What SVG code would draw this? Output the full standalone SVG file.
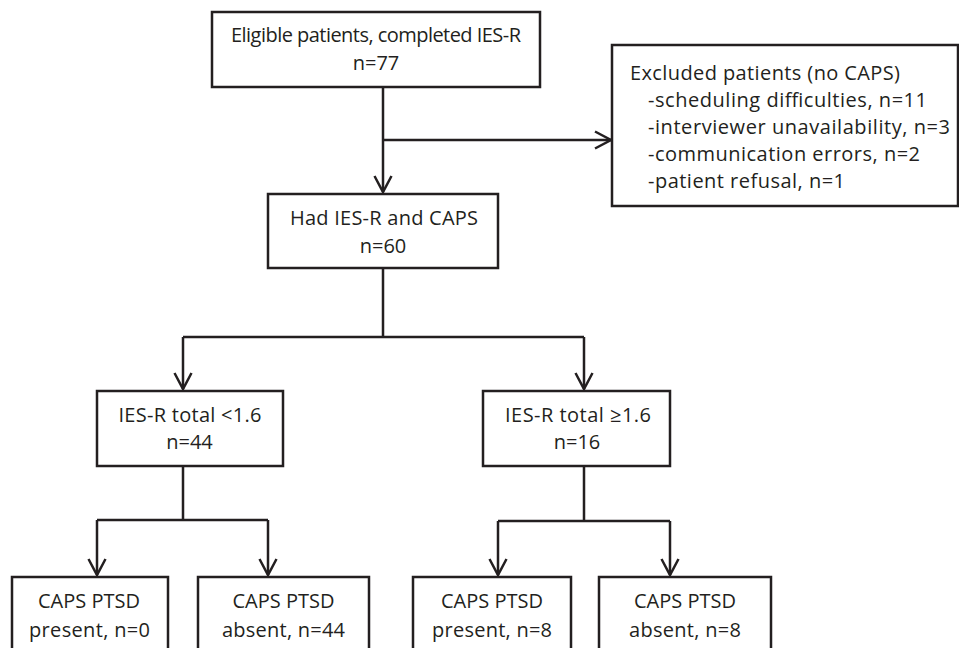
<svg xmlns="http://www.w3.org/2000/svg" width="959" height="648" viewBox="0 0 959 648">
<style>
.box{fill:#fff;stroke:#231f20;stroke-width:2.5}
.t{font-family:"Open Sans","Noto Sans",sans-serif;font-size:20px;fill:#231f20}
.c{text-anchor:middle}
.ln{fill:none;stroke:#231f20;stroke-width:2.5}
</style>
<defs>
<marker id="ah" markerUnits="userSpaceOnUse" markerWidth="24" markerHeight="24" viewBox="-20 -12 24 24" refX="0" refY="0" orient="auto" overflow="visible">
<path d="M-16,-8.5 L0,0 L-16,8.5" fill="none" stroke="#231f20" stroke-width="2.5"/>
</marker>
</defs>
<rect width="959" height="648" fill="#fff"/>
<g id="connectors">
<path class="ln" d="M383,87 V192" marker-end="url(#ah)"/>
<path class="ln" d="M383,140 H611" marker-end="url(#ah)"/>
<path class="ln" d="M383,268 V337 M183,337 H584"/>
<path class="ln" d="M183,337 V389" marker-end="url(#ah)"/>
<path class="ln" d="M584,337 V389" marker-end="url(#ah)"/>
<path class="ln" d="M183,466 V520 M97,520 H268"/>
<path class="ln" d="M97,520 V575" marker-end="url(#ah)"/>
<path class="ln" d="M268,520 V575" marker-end="url(#ah)"/>
<path class="ln" d="M584,466 V521 M498,521 H670"/>
<path class="ln" d="M498,521 V575" marker-end="url(#ah)"/>
<path class="ln" d="M670,521 V575" marker-end="url(#ah)"/>
</g>
<g id="eligible">
<rect class="box" x="212" y="12" width="328" height="75"/>
<text class="t c" x="376" y="42" textLength="290">Eligible patients, completed IES-R</text>
<text class="t c" x="376" y="70">n=77</text>
</g>
<g id="excluded">
<rect class="box" x="612" y="45" width="346" height="161"/>
<text class="t" x="630" y="80" textLength="270">Excluded patients (no CAPS)</text>
<text class="t" x="648" y="107" textLength="279">-scheduling difficulties, n=11</text>
<text class="t" x="648" y="134" textLength="302">-interviewer unavailability, n=3</text>
<text class="t" x="648" y="161" textLength="272">-communication errors, n=2</text>
<text class="t" x="648" y="188" textLength="197">-patient refusal, n=1</text>
</g>
<g id="had">
<rect class="box" x="268" y="194" width="230" height="74"/>
<text class="t c" x="384" y="225" textLength="188">Had IES-R and CAPS</text>
<text class="t c" x="383" y="253">n=60</text>
</g>
<g id="low">
<rect class="box" x="97" y="391" width="186" height="75"/>
<text class="t c" x="190" y="422" textLength="143">IES-R total &lt;1.6</text>
<text class="t c" x="189.5" y="449">n=44</text>
</g>
<g id="high">
<rect class="box" x="483" y="391" width="187" height="75"/>
<text class="t c" x="578" y="422" textLength="146">IES-R total ≥1.6</text>
<text class="t c" x="577" y="449">n=16</text>
</g>
<g id="low-present">
<rect class="box" x="12" y="577" width="156" height="90"/>
<text class="t c" x="89" y="608" textLength="102">CAPS PTSD</text>
<text class="t c" x="89.5" y="637" textLength="121">present, n=0</text>
</g>
<g id="low-absent">
<rect class="box" x="198" y="577" width="171" height="90"/>
<text class="t c" x="283.5" y="608" textLength="102">CAPS PTSD</text>
<text class="t c" x="283.5" y="637" textLength="123">absent, n=44</text>
</g>
<g id="high-present">
<rect class="box" x="413" y="577" width="158" height="90"/>
<text class="t c" x="492" y="608" textLength="102">CAPS PTSD</text>
<text class="t c" x="492" y="637" textLength="120">present, n=8</text>
</g>
<g id="high-absent">
<rect class="box" x="599" y="577" width="172" height="90"/>
<text class="t c" x="685" y="608" textLength="102">CAPS PTSD</text>
<text class="t c" x="685" y="637" textLength="112">absent, n=8</text>
</g>
</svg>
